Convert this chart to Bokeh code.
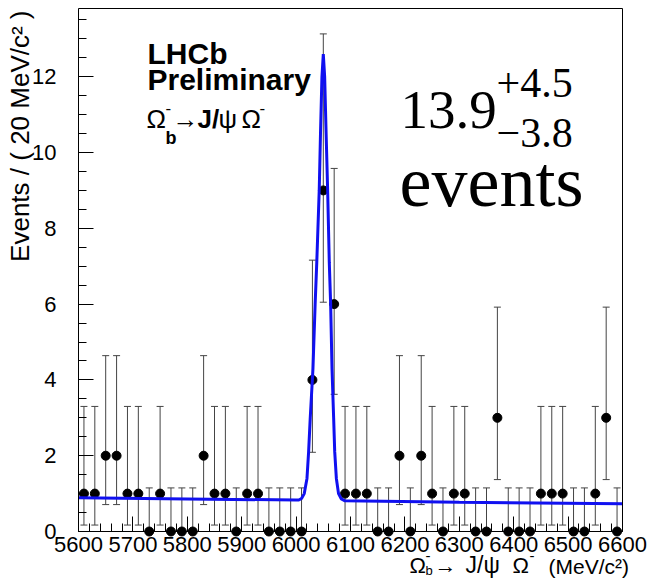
import math
from bokeh.plotting import figure
from bokeh.models import (ColumnDataSource, Range1d, SingleIntervalTicker,
                          FixedTicker, LinearAxis, Whisker, TeeHead, Label)
from bokeh.embed import file_html
from bokeh.resources import INLINE

# ---------------- data ----------------
bin_centers = [5610, 5630, 5650, 5670, 5690, 5710, 5730, 5750, 5770, 5790,
               5810, 5830, 5850, 5870, 5890, 5910, 5930, 5950, 5970, 5990,
               6010, 6030, 6050, 6070, 6090, 6110, 6130, 6150, 6170, 6190,
               6210, 6230, 6250, 6270, 6290, 6310, 6330, 6350, 6370, 6390,
               6410, 6430, 6450, 6470, 6490, 6510, 6530, 6550, 6570, 6590]
counts = [1, 1, 2, 2, 1, 1, 0, 1, 0, 0,
          0, 2, 1, 1, 0, 1, 1, 0, 0, 0,
          0, 4, 9, 6, 1, 1, 1, 0, 0, 2,
          0, 2, 1, 0, 1, 1, 0, 0, 3, 0,
          0, 0, 1, 1, 1, 0, 0, 1, 3, 0]
# asymmetric (Poisson) error-bar ends, per count value
err_low = {0: 0.0, 1: 0.17, 2: 0.71, 3: 1.37, 4: 2.09, 6: 3.62, 9: 6.05}
err_high = {0: 1.15, 1: 3.30, 2: 4.64, 3: 5.92, 4: 7.16, 6: 9.58, 9: 13.13}

# fit curve (signal peak + flat background)
fit_x = [5600, 5800, 6000, 6005, 6010, 6015, 6020, 6023, 6026, 6031, 6035,
         6038, 6042.5, 6045, 6047.5, 6050, 6052.5, 6055, 6058, 6061, 6063.5,
         6066, 6069, 6071, 6074, 6078, 6083, 6090, 6300, 6600]
fit_y = [0.89, 0.86, 0.83, 0.83, 0.87, 1.00, 1.40, 2.10, 3.00, 4.30, 6.00,
         7.10, 9.00, 10.60, 12.00, 12.60, 12.00, 10.60, 9.00, 7.10, 6.00,
         4.30, 3.00, 2.10, 1.40, 1.00, 0.86, 0.81, 0.77, 0.73]

x_ticks_interval = 100
y_ticks_interval = 2

# ---------------- layout ----------------
W, H = 651, 579
FL, FR, FT, FB = 78, 622, 8, 531       # ROOT frame edges in pixels
XMIN, XMAX, YMIN, YMAX = 5600, 6600, 0.0, 13.8
SX = (XMAX - XMIN) / (FR - FL)         # data units per pixel
SY = (YMAX - YMIN) / (FB - FT)
BASE_SHIFT = 0.35                      # empirical alphabetic-baseline fix


def px2x(px):
    return XMIN + (px - FL) * SX


def py2y(py):
    return YMIN + (FB - py) * SY


# the Bokeh frame covers the whole canvas; the ROOT-like frame is drawn
# with axes at fixed locations so that all texts can live in the frame
p = figure(width=W, height=H, output_backend="svg", toolbar_location=None,
           x_range=Range1d(px2x(0), px2x(W)), y_range=Range1d(py2y(H), py2y(0)),
           x_axis_location=None, y_axis_location=None,
           min_border=0)
p.background_fill_color = "white"
p.border_fill_color = "white"
p.outline_line_color = None
p.grid.visible = False


def style_axis(ax):
    ax.major_tick_in = 15
    ax.major_tick_out = 0
    ax.minor_tick_in = 8
    ax.minor_tick_out = 0
    ax.axis_line_color = "black"
    ax.major_tick_line_color = "black"
    ax.minor_tick_line_color = "black"
    ax.major_label_text_font = "Liberation Sans"
    ax.major_label_text_font_size = "22px"
    ax.major_label_text_color = "black"


xaxis = LinearAxis(fixed_location=YMIN, bounds=(XMIN, XMAX),
                   ticker=SingleIntervalTicker(interval=x_ticks_interval,
                                               num_minor_ticks=5))
style_axis(xaxis)
xaxis.major_label_standoff = 5
p.add_layout(xaxis, "below")

yaxis = LinearAxis(fixed_location=XMIN, bounds=(YMIN, YMAX),
                   ticker=SingleIntervalTicker(interval=y_ticks_interval,
                                               num_minor_ticks=4))
style_axis(yaxis)
yaxis.major_label_standoff = 22
p.add_layout(yaxis, "left")

# plain top / right frame lines
top_axis = LinearAxis(fixed_location=YMAX, bounds=(XMIN, XMAX),
                      ticker=FixedTicker(ticks=[]), axis_line_color="black",
                      major_label_text_font_size="0px")
p.add_layout(top_axis, "above")
right_axis = LinearAxis(fixed_location=XMAX, bounds=(YMIN, YMAX),
                        ticker=FixedTicker(ticks=[]), axis_line_color="black",
                        major_label_text_font_size="0px")
p.add_layout(right_axis, "right")

src = ColumnDataSource(dict(
    x=bin_centers, y=counts,
    lo=[err_low[c] for c in counts],
    hi=[err_high[c] for c in counts],
))

wh = Whisker(source=src, base="x", lower="lo", upper="hi", dimension="height",
             line_color="#444444", line_width=1,
             upper_head=TeeHead(size=7, line_color="#444444", line_width=1),
             lower_head=TeeHead(size=7, line_color="#444444", line_width=1))
p.add_layout(wh)

p.scatter("x", "y", source=src, size=9, color="black", marker="circle")

p.line(fit_x, fit_y, line_color="#1010f0", line_width=3)


def lab(px, py, text, size, font="Liberation Sans", style="normal"):
    p.add_layout(Label(x=px2x(px), y=py2y(py - BASE_SHIFT * size), text=text,
                       text_font=font, text_font_size=f"{size}px",
                       text_font_style=style, text_align="left",
                       text_baseline="alphabetic", text_color="black"))


# y-axis title (ROOT style: aligned to the top end of the axis)
p.add_layout(Label(x=px2x(19), y=py2y(10), text="Events / ( 20 MeV/c\u00b2 )",
                   text_font="Liberation Sans", text_font_size="26px",
                   text_align="right", text_baseline="middle",
                   angle=math.pi / 2, text_color="black"))

# x-axis title (aligned to the right end of the axis)
lab(409, 573, "\u03a9", 22)
lab(425, 561, "-", 15)
lab(425, 575, "b", 13)
lab(434, 573, "\u2192", 22)
lab(465, 573, "J/\u03c8", 23)
lab(512, 573, "\u03a9", 22)
lab(529, 561, "-", 15)
lab(548, 573, "(MeV/c\u00b2)", 21)

# LHCb label
lab(147, 63, "LHCb", 30, style="bold")
lab(147, 89, "Preliminary", 30, style="bold")
lab(146, 128, "\u03a9", 26)
lab(165, 113, "-", 17)
lab(165, 144, "b", 18, style="bold")
lab(172, 128, "\u2192", 26)
lab(197, 128, "J/", 26, style="bold")
lab(218, 128, "\u03c8", 26)
lab(241, 128, "\u03a9", 26)
lab(259, 113, "-", 17)

# yield text
lab(400, 129, "13.9", 55, font="Liberation Serif")
lab(496, 97, "+4.5", 42, font="Liberation Serif")
lab(496, 147, "\u22123.8", 42, font="Liberation Serif")
lab(399, 207, "events", 72, font="Liberation Serif")

open("out.html", "w").write(file_html(p, INLINE))
